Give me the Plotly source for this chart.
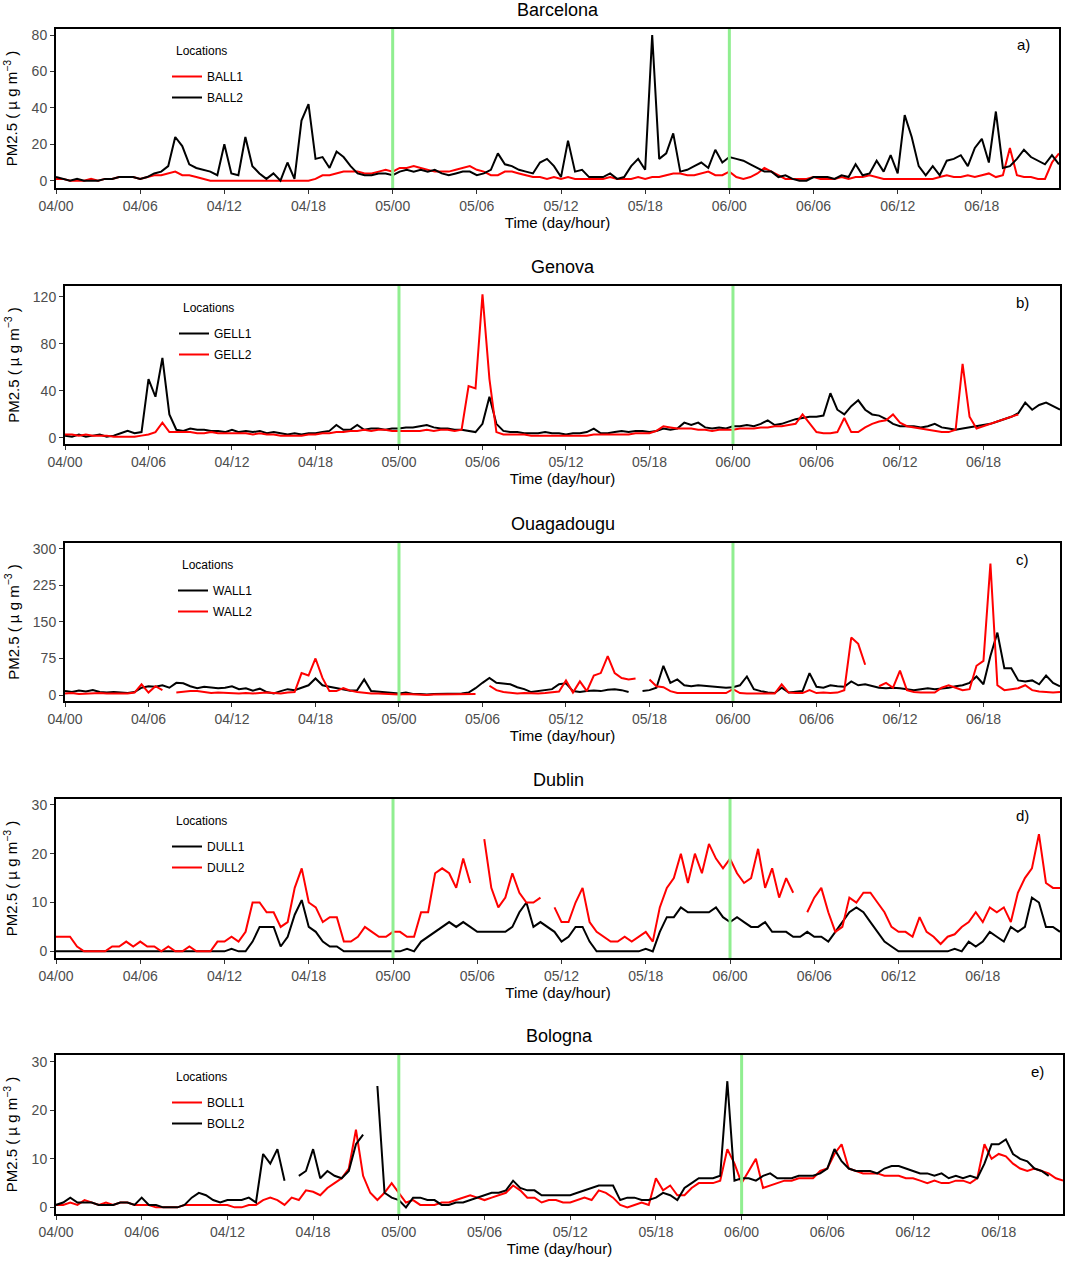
import plotly.graph_objects as go
from plotly.subplots import make_subplots

W, H = 1065, 1261
N = None

# half-hourly time stamps, hours since 04/00
hours = [i * 0.5 for i in range(144)]
tick_vals = [0, 6, 12, 18, 24, 30, 36, 42, 48, 54, 60, 66]
tick_text = ["04/00", "04/06", "04/12", "04/18", "05/00", "05/06",
             "05/12", "05/18", "06/00", "06/06", "06/12", "06/18"]
day_marks = [24, 48]   # 05/00 and 06/00

# Barcelona
ball1 = [1, 1, 0, 0, 0, 1, 0, 1, 1, 2, 2, 2,
         1, 2, 3, 3, 4, 5, 3, 3, 2, 1, 0, 0,
         0, 0, 0, 0, 0, 0, 0, 0, 0, 0, 0, 0,
         0, 1, 3, 3, 4, 5, 5, 5, 4, 4, 5, 6,
         5, 7, 7, 8, 7, 6, 5, 5, 5, 6, 7, 8,
         6, 5, 3, 3, 5, 5, 4, 3, 2, 2, 1, 2,
         1, 2, 1, 1, 1, 1, 1, 2, 1, 1, 1, 2,
         1, 2, 2, 3, 4, 4, 3, 3, 4, 5, 3, 3,
         5, 2, 1, 2, 4, 7, 5, 3, 1, 1, 1, 1,
         2, 1, 1, 1, 2, 1, 2, 2, 3, 2, 1, 1,
         1, 1, 1, 1, 1, 1, 2, 3, 2, 2, 3, 2,
         3, 4, 2, 3, 18, 3, 2, 2, 1, 1, 10, 15]
ball2 = [2, 1, 0, 1, 0, 0, 0, 1, 1, 2, 2, 2,
         1, 2, 4, 5, 8, 24, 19, 9, 7, 6, 5, 3,
         20, 4, 3, 24, 8, 4, 1, 4, 0, 10, 1, 33,
         42, 12, 13, 7, 16, 13, 8, 4, 3, 3, 4, 4,
         3, 5, 6, 5, 6, 5, 6, 4, 3, 4, 5, 5,
         3, 4, 6, 15, 9, 8, 6, 5, 4, 10, 12, 8,
         2, 22, 5, 6, 2, 2, 2, 4, 1, 2, 8, 12,
         6, 80, 12, 15, 26, 5, 6, 8, 10, 7, 17, 10,
         13, 12, 11, 9, 7, 5, 5, 2, 3, 1, 0, 0,
         2, 2, 2, 1, 3, 2, 9, 3, 4, 11, 5, 14,
         4, 36, 24, 8, 3, 8, 3, 11, 12, 14, 8, 18,
         23, 10, 38, 7, 8, 12, 17, 13, 11, 9, 14, 9]

# Genova
gell1 = [2, 1, 3, 1, 2, 3, 1, 2, 4, 6, 4, 5,
         50, 35, 68, 20, 7, 6, 8, 7, 7, 6, 6, 5,
         7, 5, 6, 5, 6, 4, 5, 4, 3, 4, 3, 4,
         4, 5, 6, 11, 7, 7, 11, 7, 8, 8, 7, 8,
         8, 9, 9, 10, 11, 9, 8, 8, 7, 7, 6, 5,
         12, 35, 12, 6, 5, 5, 4, 4, 4, 5, 4, 4,
         3, 4, 4, 5, 8, 4, 4, 5, 6, 5, 6, 6,
         5, 6, 8, 7, 8, 13, 11, 13, 9, 8, 9, 8,
         10, 10, 11, 10, 12, 15, 11, 12, 14, 16, 17, 18,
         18, 19, 38, 24, 20, 27, 32, 24, 20, 19, 16, 12,
         10, 10, 10, 9, 10, 12, 9, 8, 7, 8, 9, 10,
         11, 12, 14, 16, 18, 21, 30, 24, 28, 30, 27, 24]
gell2 = [3, 3, 2, 3, 2, 2, 2, 1, 1, 1, 1, 2,
         3, 5, 13, 5, 5, 5, 5, 4, 4, 5, 4, 4,
         4, 4, 4, 3, 4, 3, 3, 2, 2, 2, 2, 3,
         3, 4, 4, 5, 5, 6, 6, 7, 6, 7, 7, 6,
         6, 6, 6, 6, 7, 6, 7, 7, 6, 7, 44, 42,
         122, 50, 5, 3, 3, 3, 3, 2, 2, 2, 2, 2,
         2, 2, 2, 2, 3, 3, 3, 3, 3, 3, 4, 4,
         4, 6, 10, 9, 8, 8, 8, 7, 7, 6, 7, 7,
         7, 8, 8, 8, 9, 9, 10, 10, 11, 12, 20, 12,
         5, 4, 4, 5, 17, 5, 5, 9, 12, 14, 15, 20,
         13, 10, 9, 8, 7, 6, 5, 5, 7, 63, 18, 8,
         10, 12, 14, 16, 18, 20, N, N, N, N, N, N]

# Ouagadougu
wall1 = [8, 6, 9, 7, 10, 6, 5, 6, 5, 4, 6, 15,
         18, 17, 20, 15, 25, 24, 18, 14, 17, 16, 14, 15,
         18, 12, 14, 9, 13, 6, 3, 8, 12, 10, 15, 20,
         34, 20, 17, 14, 12, 9, 10, 32, 8, 7, 5, 5,
         3, 5, 2, 2, 1, 2, 2, 3, 2, 3, 5, 14,
         25, 35, 25, 24, 22, 16, 12, 6, 8, 10, 12, 22,
         24, 8, 6, 8, 9, 8, 11, 12, 10, 6, N, 8,
         10, 15, 60, 25, 32, 20, 18, 20, 19, 17, 16, 15,
         16, 20, 38, 12, 8, 5, 4, 15, 5, 6, 8, 45,
         17, 15, 20, 18, 17, 28, 20, 22, 18, 15, 14, 15,
         14, 12, 10, 12, 14, 12, 13, 15, 18, 20, 25, 38,
         22, 80, 128, 55, 55, 30, 28, 30, 22, 40, 25, 18]
wall2 = [3, 4, 2, 3, 3, 4, 3, 3, 4, 3, 5, 22,
         5, 18, 10, N, 5, 7, 8, 8, 6, 4, 5, 4,
         4, 3, 4, 3, 4, 5, 4, 3, 5, 6, 45, 40,
         75, 35, 8, 8, 14, 9, 6, 4, 3, 3, 2, 2,
         1, 2, 1, 1, 0, 1, 1, 1, 2, 1, 2, 2,
         N, 19, 10, 6, 4, 3, 4, 3, 3, 4, 5, 7,
         30, 5, 28, 8, 40, 45, 80, 45, 35, 32, 34, N,
         32, 18, 16, 8, 4, 4, 3, 4, 3, 4, 3, 4,
         12, 4, 3, 3, 2, 3, 3, 22, 5, 4, 4, 10,
         4, 5, 4, 5, 10, 118, 105, 62, N, 18, 25, 15,
         50, 10, 6, 5, 5, 5, 15, 20, 15, 10, 12, 60,
         70, 270, 20, 10, 12, 14, 20, 10, 7, 6, 5, 6]

# Dublin
dull1 = [0, 0, 0, 0, 0, 0, 0, 0, 0, 0, 0, 0,
         0, 0, 0, 0, 0, 0, 0, 0, 0, 0, 0, 0,
         0, 0.5, 0, 0, 2, 5, 5, 5, 1, 3, 7.5, 10.5,
         5, 4, 2, 1, 1, 0, 0, 0, 0, 0, 0, 0,
         0, 0, 0.5, 0, 2, 3, 4, 5, 6, 5, 6, 5,
         4, 4, 4, 4, 4, 5, 8, 10, 5, 6, 5, 4,
         2, 3, 5, 5, 2, 0, 0, 0, 0, 0, 0, 0,
         0.5, 0, 4, 7, 7, 9, 8, 8, 8, 8, 9, 7,
         6, 7, 6, 5, 5, 6, 4, 4, 4, 3, 3, 4,
         3, 3, 2, 4, 6, 8, 9, 8, 6, 4, 2, 1,
         0, 0, 0, 0, 0, 0, 0, 0, 0.5, 0, 2, 1,
         2, 4, 3, 2, 5, 4, 5, 11, 10, 5, 5, 4]
dull2 = [3, 3, 3, 1, 0, 0, 0, 0, 1, 1, 2, 1,
         2, 1, 1, 0, 1, 0, 0, 1, 0, 0, 0, 2,
         2, 3, 2, 4, 10, 10, 8, 8, 5, 6, 13, 17,
         10, 9, 6, 7, 7, 2, 2, 3, 5, 4, 3, 3,
         4, 4, 3, 3, 8, 8, 16, 17, 16, 13, 19, 14,
         N, 23, 13, 9, 11, 16, 12, 10, 10, 11, N, 9,
         6, 6, 10, 13, 6, 4, 3, 2, 2, 3, 2, 3,
         4, 2, 9, 13, 15, 20, 14, 20, 16, 22, 19, 17,
         19, 16, 14, 15, 21, 13, 17, 11, 15, 12, N, 8,
         11, 13, 8, 4, 5, 11, 10, 12, 12, 10, 8, 5,
         4, 4, 3, 7, 4, 3, 1.5, 3, 3.5, 5, 6, 8,
         6, 9, 8, 9, 6, 12, 15, 17, 24, 14, 13, 13]

# Bologna (record ends at 06/22:30)
boll1 = [0.5, 0.5, 1, 0.5, 1.5, 1, 0.5, 1, 0.5, 1, 1, 0.5,
         0.5, 0.5, 0, 0, 0, 0, 0.5, 0.5, 0.5, 0.5, 0.5, 0.5,
         0.5, 0, 0, 0.5, 0.5, 1.5, 2, 1.5, 0.5, 2, 1.5, 3.5,
         3.2, 2.5, 4, 5, 6, 8, 16, 6.5, 3, 1.5, 3, 5,
         3, 1, 1.5, 0.5, 0.5, 0.5, 1, 1, 1.5, 2, 2.5, 2,
         1.5, 2, 2.5, 3, 4.5, 3.5, 2, 2, 1, 1.5, 1.5, 1,
         1, 1.5, 2, 1.5, 3.5, 3, 2, 0.5, 0, 0.5, 1, 0.5,
         6, 3.5, 4.5, 2.5, 2.5, 4, 5, 5, 5, 5.5, 12, 9,
         5, 7.5, 10, 4, 4.5, 5, 5.5, 5.5, 6, 6, 6, 7.5,
         8, 11, 13, 8, 7.5, 7, 7, 7, 6.5, 6.5, 6.5, 6,
         6, 5.5, 5, 5.5, 5, 5, 5.5, 5.5, 5, 6, 13, 10,
         11, 10.5, 9, 8, 7.5, 8, 7.5, 7, 6, 5.5]
boll2 = [0.5, 1, 2, 1, 1, 1, 0.5, 0.5, 0.5, 1, 1, 0.5,
         2, 0.5, 0.5, 0, 0, 0, 0.5, 2, 3, 2.5, 1.5, 1,
         1.5, 1.5, 1.5, 2, 1, 11, 9, 12, 5.5, N, 6.5, 7.5,
         12, 6, 7.5, 6.5, 6, 7.5, 13, 15, N, 25, 3, 2,
         1.5, 0, 2, 2, 1.5, 1.5, 0.5, 0.5, 1, 1, 1.5, 2,
         2.5, 3, 3, 3.5, 5.5, 4, 3.5, 3.5, 2.5, 2.5, 2.5, 2.5,
         2.5, 3, 3.5, 4, 4.5, 4.5, 4.5, 1.5, 2, 2, 1.5, 1.5,
         2, 3, 2.5, 1.5, 4, 5, 6, 6, 6, 6.5, 26, 5.5,
         6, 6, 5.5, 6.5, 7, 6, 6, 6, 6.5, 6.5, 6.5, 7,
         8, 12, 9.5, 8, 7.5, 7.5, 7.5, 7, 8, 8.5, 8.5, 8,
         7.5, 7, 7, 6.5, 7, 6, 6.5, 6, 6.5, 6, 9, 13,
         13, 14, 11, 10, 9.5, 8, 7.5, 6.5, N, 7.5]

# panel boxes in pixels: left, right, top, bottom
panels = [
    dict(title="Barcelona", tag="a)", box=(56, 1059, 29, 188), xmax=71.5,
         yrange=[-4, 83.3], yticks=[0, 20, 40, 60, 80], tagx=1023, legx=174,
         series=[("BALL1", ball1, "#FF0000"), ("BALL2", ball2, "#000000")]),
    dict(title="Genova", tag="b)", box=(65, 1060, 286, 444), xmax=71.5,
         yrange=[-5.1, 129], yticks=[0, 40, 80, 120], tagx=1022, legx=181,
         series=[("GELL1", gell1, "#000000"), ("GELL2", gell2, "#FF0000")]),
    dict(title="Ouagadougu", tag="c)", box=(65, 1060, 543, 701), xmax=71.5,
         yrange=[-12.3, 312], yticks=[0, 75, 150, 225, 300], tagx=1022, legx=180,
         series=[("WALL1", wall1, "#000000"), ("WALL2", wall2, "#FF0000")]),
    dict(title="Dublin", tag="d)", box=(56, 1060, 799, 958), xmax=71.5,
         yrange=[-1.36, 31.2], yticks=[0, 10, 20, 30], tagx=1022, legx=174,
         series=[("DULL1", dull1, "#000000"), ("DULL2", dull2, "#FF0000")]),
    dict(title="Bologna", tag="e)", box=(56, 1063, 1055, 1214), xmax=70.5,
         yrange=[-1.37, 31.4], yticks=[0, 10, 20, 30], tagx=1037, legx=174,
         series=[("BOLL1", boll1, "#FF0000"), ("BOLL2", boll2, "#000000")]),
]

FONT = "Liberation Sans, Arial, Helvetica, sans-serif"

fig = make_subplots(rows=5, cols=1)

for i, p in enumerate(panels):
    r = i + 1
    leg = "legend" if i == 0 else f"legend{r}"
    left, right, top, bottom = p["box"]

    for name, vals, color in p["series"]:
        fig.add_trace(go.Scatter(
            x=hours[:len(vals)], y=vals, mode="lines", name=name,
            line=dict(color=color, width=2), legend=leg, legendgroup=name
        ), row=r, col=1)

    fig.update_xaxes(domain=[left / W, right / W], range=[0, p["xmax"]],
                     tickvals=tick_vals, ticktext=tick_text,
                     title_text="Time (day/hour)", row=r, col=1)
    fig.update_yaxes(domain=[1 - bottom / H, 1 - top / H], range=p["yrange"],
                     tickvals=p["yticks"],
                     title_text="PM2.5 ( \u00b5 g m<sup>\u22123</sup> )", row=r, col=1)

    # day boundaries
    for d in day_marks:
        fig.add_vline(x=d, line_color="#90EE90", line_width=3, layer="above", row=r, col=1)

    # legend entries; "Locations" heading set as a note just above them
    fig.update_layout({leg: dict(
        x=(p["legx"] - 7) / W, y=1 - (top + 33) / H, xanchor="left", yanchor="top",
        bgcolor="rgba(0,0,0,0)", font=dict(size=12, color="black"),
        itemwidth=30, tracegroupgap=2)})
    fig.add_annotation(text="Locations", xref="paper", yref="paper",
                       x=p["legx"] / W, y=1 - (top + 22) / H,
                       xanchor="left", yanchor="middle",
                       showarrow=False, font=dict(size=12, color="black"))

    fig.add_annotation(text=p["title"], xref="paper", yref="paper",
                       x=(left + right) / 2 / W, y=1 - (top - 19) / H,
                       xanchor="center", yanchor="middle",
                       showarrow=False, font=dict(size=18, color="black"))
    fig.add_annotation(text=p["tag"], xref="paper", yref="paper",
                       x=p["tagx"] / W, y=1 - (top + 16) / H,
                       xanchor="center", yanchor="middle",
                       showarrow=False, font=dict(size=15, color="black"))

fig.update_xaxes(showline=True, mirror=True, linecolor="black", linewidth=2,
                 ticks="outside", ticklen=4, tickcolor="#333333", automargin=False,
                 tickfont=dict(size=14, color="#4D4D4D"), showgrid=False, zeroline=False,
                 title_font=dict(size=15, color="black"), title_standoff=4)
fig.update_yaxes(showline=True, mirror=True, linecolor="black", linewidth=2,
                 ticks="outside", ticklen=4, tickcolor="#333333", automargin=False,
                 tickfont=dict(size=14, color="#4D4D4D"), showgrid=False, zeroline=False,
                 title_font=dict(size=15, color="black"), title_standoff=10)

fig.update_layout(
    width=W, height=H,
    margin=dict(l=0, r=0, t=0, b=0, autoexpand=False),
    paper_bgcolor="white", plot_bgcolor="white",
    font=dict(family=FONT, color="black"),
    showlegend=True,
)

# drop the browser's default page margin so the figure sits at the window corner
fig.write_html("out.html", config={"displayModeBar": False},
               post_script="document.body.style.margin = '0px';")
